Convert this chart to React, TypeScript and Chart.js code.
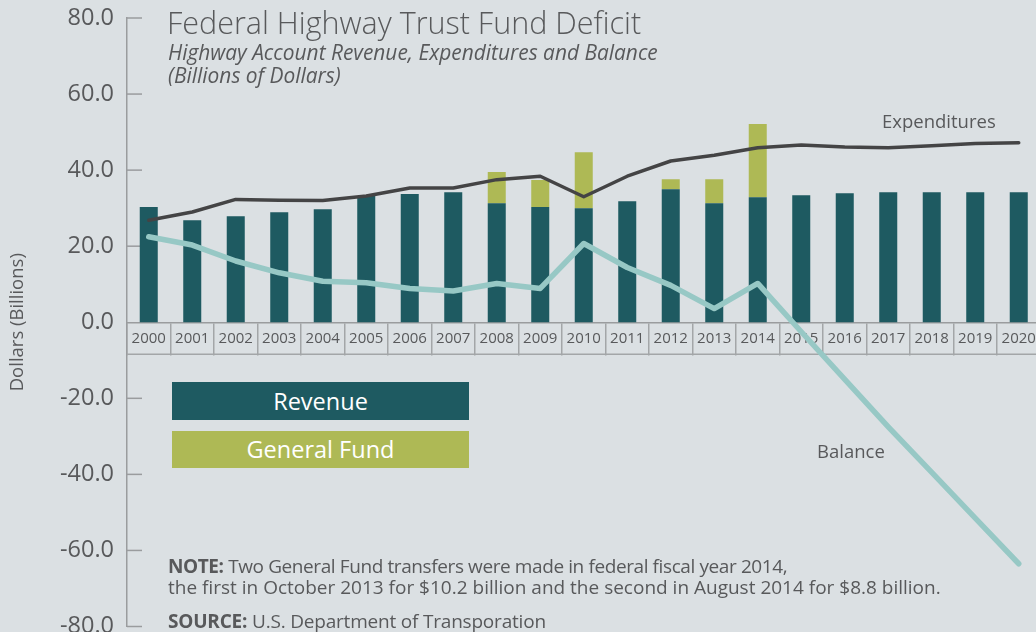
import React, { useEffect, useRef } from "react";
import { Chart, registerables } from "chart.js";

Chart.register(...registerables);

const years = ["2000", "2001", "2002", "2003", "2004", "2005", "2006", "2007", "2008", "2009", "2010", "2011", "2012", "2013", "2014", "2015", "2016", "2017", "2018", "2019", "2020"];
const revenue = [30.3, 26.8, 27.9, 28.9, 29.7, 33.2, 33.7, 34.2, 31.3, 30.3, 30.0, 31.8, 35.0, 31.3, 32.9, 33.4, 33.9, 34.2, 34.2, 34.2, 34.2];
const generalFund = [null, null, null, null, null, null, null, null, 8.2, 7.1, 14.7, null, 2.6, 6.3, 19.2, null, null, null, null, null, null];
const expenditures = [26.8, 29.0, 32.3, 32.1, 32.0, 33.2, 35.3, 35.3, 37.5, 38.4, 33.0, 38.4, 42.4, 43.9, 45.9, 46.6, 46.1, 45.9, 46.4, 47.0, 47.2];
const balance = [22.5, 20.3, 16.1, 13.0, 10.8, 10.4, 8.9, 8.2, 10.2, 8.9, 20.7, 14.4, 9.7, 3.6, 10.2, -2.5, -15.0, -27.5, -39.5, -51.5, -63.5];
const yMin = -80;
const yMax = 80;
const yStep = 20;

const FONT = '"Open Sans", "Noto Sans", sans-serif';
const TEXT = "#58595b";
const BG = "#dbe0e3";

export default function App() {
  const ref = useRef<HTMLCanvasElement>(null);

  useEffect(() => {
    const canvas = ref.current;
    if (!canvas) return;

    const axisExtras = {
      id: "axisExtras",
      beforeDatasetsDraw(chart: any) {
        const { ctx, chartArea, scales } = chart;
        const y = scales.y;
        const y0 = y.getPixelForValue(0);
        ctx.save();
        ctx.strokeStyle = "#a3a6a8";
        ctx.lineWidth = 1.5;
        ctx.beginPath();
        ctx.moveTo(chartArea.left, y0 + 32);
        ctx.lineTo(chartArea.right, y0 + 32);
        ctx.stroke();
        ctx.strokeStyle = "#9a9c9e";
        y.ticks.forEach((t: any) => {
          if (t.value === 0) return;
          const py = y.getPixelForValue(t.value);
          ctx.beginPath();
          ctx.moveTo(chartArea.left, py);
          ctx.lineTo(chartArea.left + 15, py);
          ctx.stroke();
        });
        ctx.restore();
      },
    };

    const chart = new Chart(canvas, {
      type: "bar",
      data: {
        labels: years,
        datasets: [
          {
            type: "line",
            label: "Expenditures",
            data: expenditures,
            borderColor: "#444445",
            borderWidth: 3.5,
            pointRadius: 0,
            tension: 0,
            borderCapStyle: "round",
            borderJoinStyle: "round",
            stack: "exp",
            order: 0,
          },
          {
            type: "line",
            label: "Balance",
            data: balance,
            borderColor: "#97c8c5",
            borderWidth: 5.5,
            pointRadius: 0,
            tension: 0,
            borderCapStyle: "round",
            borderJoinStyle: "round",
            stack: "bal",
            order: 0,
          },
          {
            type: "bar",
            label: "Revenue",
            data: revenue,
            backgroundColor: "#1e5a61",
            borderWidth: 0,
            stack: "bars",
            categoryPercentage: 1,
            barPercentage: 0.414,
            order: 1,
          },
          {
            type: "bar",
            label: "General Fund",
            data: generalFund,
            backgroundColor: "#aeb955",
            borderWidth: 0,
            stack: "bars",
            categoryPercentage: 1,
            barPercentage: 0.414,
            order: 1,
          },
        ],
      } as any,
      options: {
        responsive: false,
        animation: false,
        events: [],
        layout: { padding: { left: 0, top: 18, right: 19.5, bottom: 33.5 } },
        plugins: {
          legend: { display: false },
          tooltip: { enabled: false },
          title: { display: false },
        },
        scales: {
          x: {
            type: "category",
            stacked: true,
            offset: true,
            position: { y: 0 } as any,
            afterFit: (s: any) => {
              s.paddingTop = 0;
              s.paddingBottom = 0;
              s.paddingLeft = 0;
              s.paddingRight = 0;
            },
            grid: {
              display: true,
              offset: true,
              drawOnChartArea: false,
              drawTicks: true,
              tickLength: 32,
              color: "#a3a6a8",
              lineWidth: 1.5,
            },
            border: { display: true, color: "#9a9c9e", width: 1.5 },
            ticks: {
              padding: -25,
              color: TEXT,
              font: { family: FONT, size: 15 },
              maxRotation: 0,
              autoSkip: false,
            },
          },
          y: {
            type: "linear",
            stacked: true,
            min: yMin,
            max: yMax,
            position: "left",
            afterFit: (s: any) => {
              s.width = 127;
              s.paddingTop = 0;
              s.paddingBottom = 0;
            },
            grid: { display: false, drawTicks: false },
            border: { display: true, color: "#9a9c9e", width: 1.5 },
            ticks: {
              stepSize: yStep,
              padding: 13,
              color: TEXT,
              font: { family: FONT, size: 23.5 },
              callback: (v: any) => Number(v).toFixed(1),
            },
            title: {
              display: true,
              text: "Dollars (Billions)",
              color: TEXT,
              font: { family: FONT, size: 18.5 },
              padding: { top: 6.5, bottom: 0 },
            },
          },
        },
      },
      plugins: [axisExtras],
    } as any);

    return () => chart.destroy();
  }, []);

  const abs = (s: React.CSSProperties): React.CSSProperties => ({ position: "absolute", whiteSpace: "nowrap", fontFamily: FONT, color: TEXT, ...s });

  return (
    <div style={{ position: "fixed", left: 0, top: 0, width: 1060, height: 660, background: BG, overflow: "hidden" }}>
      <canvas ref={ref} width={1060} height={660} style={{ position: "absolute", left: 0, top: 0, width: 1060, height: 660 }} />
      <div style={abs({ left: 167, top: 1, fontSize: 30.5, fontWeight: 300, lineHeight: "42px" })}>Federal Highway Trust Fund Deficit</div>
      <div style={abs({ left: 168, top: 40, fontSize: 20.9, fontStyle: "italic", lineHeight: "24px" })}>Highway Account Revenue, Expenditures and Balance</div>
      <div style={abs({ left: 168, top: 63, fontSize: 20.9, fontStyle: "italic", lineHeight: "24px" })}>(Billions of Dollars)</div>
      <div style={abs({ left: 882, top: 109, fontSize: 18.5, lineHeight: "24px" })}>Expenditures</div>
      <div style={abs({ left: 817, top: 439, fontSize: 18.5, lineHeight: "24px" })}>Balance</div>
      <div style={abs({ left: 172, top: 382, width: 297, height: 38, background: "#1e5a61", color: "#ffffff", fontSize: 23.5, lineHeight: "38px", textAlign: "center" })}>Revenue</div>
      <div style={abs({ left: 172, top: 431, width: 297, height: 37, background: "#aeb955", color: "#ffffff", fontSize: 23.5, lineHeight: "37px", textAlign: "center" })}>General Fund</div>
      <div style={abs({ left: 168, top: 554, fontSize: 19, lineHeight: "24px", letterSpacing: "-0.4px" })}>
        <b>NOTE:</b> Two General Fund transfers were made in federal fiscal year 2014,
      </div>
      <div style={abs({ left: 168, top: 575, fontSize: 19, lineHeight: "24px" })}>
        the first in October 2013 for $10.2 billion and the second in August 2014 for $8.8 billion.
      </div>
      <div style={abs({ left: 168, top: 609, fontSize: 19, lineHeight: "24px", letterSpacing: "-0.2px" })}>
        <b>SOURCE:</b> U.S. Department of Transporation
      </div>
    </div>
  );
}
